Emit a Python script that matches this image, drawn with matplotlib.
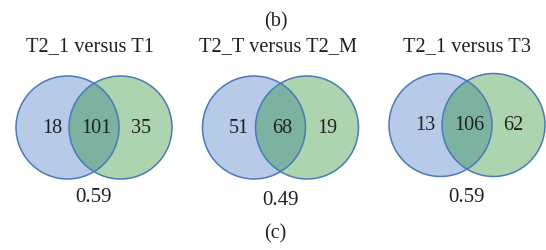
import matplotlib
matplotlib.use("Agg")
import matplotlib.pyplot as plt
from matplotlib.patches import Circle

titles = ["T2_1 versus T1", "T2_T versus T2_M", "T2_1 versus T3"]
left_only = [18, 51, 13]
shared = [101, 68, 106]
right_only = [35, 19, 62]
scores = ["0.59", "0.49", "0.59"]

# layout in pixel units
left_cx = [67.5, 254, 440.5]
cy = [128.5, 128.5, 126]
gap = 53
r = 51.5
title_x = [90, 277.5, 466.5]
score_y = [198, 200.5, 198]

blue = "#b7cbe8"
green = "#acd4ae"
mid = "#7bb2a0"
edge = "#4b79b9"
ink = "#231f20"

plt.rcParams["font.family"] = ["Liberation Serif", "DejaVu Serif"]

fig = plt.figure(figsize=(5.46, 2.51), dpi=100)
ax = fig.add_axes([0, 0, 1, 1])
ax.set_xlim(0, 546)
ax.set_ylim(251, 0)
ax.set_aspect("equal")
ax.axis("off")

ax.text(275.5, 21.5, "(b)", ha="center", va="center", fontsize=14.5, color=ink)
ax.text(275.5, 234, "(c)", ha="center", va="center", fontsize=14.5, color=ink)

for i in range(3):
    x1 = left_cx[i]
    x2 = x1 + gap
    y = cy[i]
    c1 = Circle((x1, y), r, facecolor=blue, edgecolor="none", zorder=1)
    c2 = Circle((x2, y), r, facecolor=green, edgecolor="none", zorder=1)
    ax.add_patch(c1)
    ax.add_patch(c2)
    ov = Circle((x1, y), r, facecolor=mid, edgecolor="none", zorder=2)
    ax.add_patch(ov)
    ov.set_clip_path(c2)
    for xc in (x1, x2):
        ax.add_patch(Circle((xc, y), r, facecolor="none", edgecolor=edge,
                            linewidth=1.1, zorder=3))

    mx = (x1 + x2) / 2
    ax.text(title_x[i], 47, titles[i], ha="center", va="center",
            fontsize=14.7, color=ink)
    ax.text(x1 - 15.5, y, str(left_only[i]), ha="center", va="center", fontsize=14.5, color=ink)
    ax.text(mx + 2, y, str(shared[i]), ha="center", va="center", fontsize=14.5, color=ink)
    ax.text(x2 + 20, y, str(right_only[i]), ha="center", va="center", fontsize=14.5, color=ink)
    ax.text(mx - 0.5, score_y[i], scores[i], ha="center", va="center",
            fontsize=15, color=ink)

fig.savefig("out.png", dpi=100)
